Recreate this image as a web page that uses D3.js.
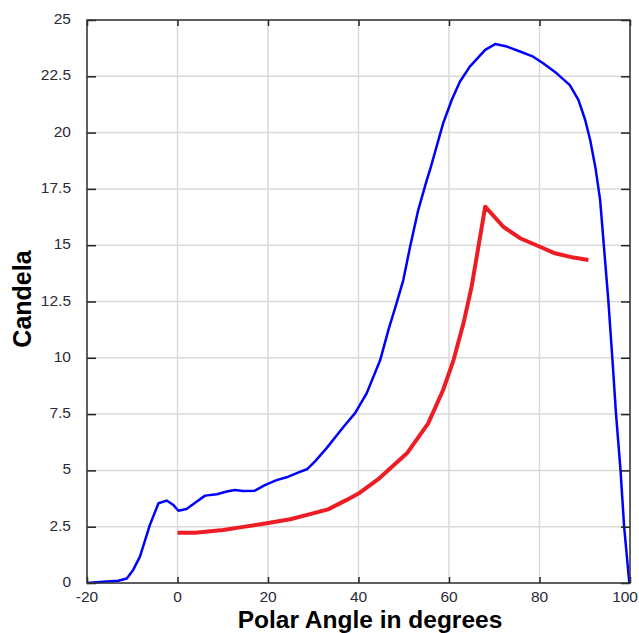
<!DOCTYPE html>
<html>
<head>
<meta charset="utf-8">
<script src="https://cdn.jsdelivr.net/npm/d3@7"></script>
<style>
  html, body { margin: 0; padding: 0; background: #fff; }
  svg { display: block; }
</style>
</head>
<body>
<svg id="chart" width="639" height="633"></svg>
<script>
// ---- data ----
const blueX = [-20, -16.4, -13.1, -11.2, -9.8, -8.3, -6.1, -4.2, -2.4, -0.9, 0.2, 2.0, 4.2, 6.1, 8.7, 10.9, 12.7, 14.5, 17.1, 19.3, 21.9, 24.5, 26.9, 28.6, 30.4, 33.0, 36.7, 39.2, 41.8, 44.8, 46.6, 48.4, 49.9, 51.4, 53.2, 55.1, 55.8, 58.7, 60.6, 62.4, 64.6, 68.0, 70.2, 72.8, 75.7, 78.6, 80.8, 83.8, 86.7, 88.6, 90.1, 91.2, 92.4, 93.4, 94.5, 95.2, 96.1, 96.9, 97.9, 98.7, 99.85];
const blueY = [0, 0.06, 0.1, 0.2, 0.58, 1.17, 2.58, 3.54, 3.66, 3.46, 3.21, 3.29, 3.61, 3.88, 3.94, 4.06, 4.13, 4.09, 4.1, 4.35, 4.57, 4.72, 4.92, 5.05, 5.4, 6.0, 6.94, 7.53, 8.42, 9.9, 11.23, 12.42, 13.45, 14.93, 16.56, 17.9, 18.34, 20.41, 21.45, 22.26, 22.93, 23.67, 23.93, 23.82, 23.6, 23.37, 23.08, 22.63, 22.11, 21.45, 20.56, 19.67, 18.4, 17.0, 14.3, 12.57, 9.98, 7.53, 5.02, 2.5, 0.0];
const redX = [0, 3.9, 10.1, 13.8, 19.7, 24.9, 29.3, 33.3, 37.4, 40.3, 44.6, 50.7, 55.4, 58.7, 61.0, 63.2, 65.0, 66.5, 68.0, 72.0, 75.7, 80.1, 83.4, 87.5, 90.8];
const redY = [2.23, 2.23, 2.35, 2.47, 2.65, 2.83, 3.06, 3.27, 3.69, 4.01, 4.65, 5.76, 7.09, 8.57, 9.9, 11.53, 13.16, 14.93, 16.71, 15.82, 15.31, 14.93, 14.64, 14.45, 14.34];
const xTicks = [-20, 0, 20, 40, 60, 80, 100];
const yTicks = [0, 2.5, 5, 7.5, 10, 12.5, 15, 17.5, 20, 22.5, 25];
const xTitle = "Polar Angle in degrees";
const yTitle = "Candela";

(function () {
// ---- layout ----
const W = 639;
const pL = 87, pR = 630, pT = 20, pB = 583;
const svg = d3.select("#chart");
const x = d3.scaleLinear().domain([-20, 100]).range([pL, pR]);
const y = d3.scaleLinear().domain([0, 25]).range([pB, pT]);

// gridlines
const grid = svg.append("g");
grid.selectAll("line.gx").data(xTicks).join("line")
  .attr("x1", d => x(d)).attr("x2", d => x(d))
  .attr("y1", pT).attr("y2", pB)
  .attr("stroke", "#d9d9d9").attr("stroke-width", 1.5);
grid.selectAll("line.gy").data(yTicks).join("line")
  .attr("y1", d => y(d)).attr("y2", d => y(d))
  .attr("x1", pL).attr("x2", pR)
  .attr("stroke", "#d9d9d9").attr("stroke-width", 1.5);

// lines
const line = d3.line().x(d => x(d[0])).y(d => y(d[1]));
const blue = blueX.map((v, i) => [v, blueY[i]]);
const red = redX.map((v, i) => [v, redY[i]]);
svg.append("path").datum(red).attr("d", line)
  .attr("fill", "none").attr("stroke", "#ee1c25").attr("stroke-width", 4)
  .attr("stroke-linejoin", "round").attr("stroke-linecap", "butt");
svg.append("path").datum(blue).attr("d", line)
  .attr("fill", "none").attr("stroke", "#0000ff").attr("stroke-width", 2.5)
  .attr("stroke-linejoin", "round");

// axes with inner ticks
const fontTick = "'Liberation Sans', Arial, sans-serif";
const axL = svg.append("g").attr("transform", `translate(${pL},0)`)
  .call(d3.axisRight(y).tickValues(yTicks).tickSize(9).tickFormat(""));
const axR = svg.append("g").attr("transform", `translate(${pR},0)`)
  .call(d3.axisLeft(y).tickValues(yTicks).tickSize(9).tickFormat(""));
const axB = svg.append("g").attr("transform", `translate(0,${pB})`)
  .call(d3.axisTop(x).tickValues(xTicks).tickSize(6).tickFormat(""));
const axT = svg.append("g").attr("transform", `translate(0,${pT})`)
  .call(d3.axisBottom(x).tickValues(xTicks).tickSize(6).tickFormat(""));
[axL, axR, axB, axT].forEach(g => {
  g.select(".domain").remove();
  g.selectAll(".tick line").attr("stroke", "#222").attr("stroke-width", 1.5);
});

// frame
svg.append("rect").attr("x", pL).attr("y", pT)
  .attr("width", pR - pL).attr("height", pB - pT)
  .attr("fill", "none").attr("stroke", "#333").attr("stroke-width", 1.5);

// tick labels
svg.append("g").selectAll("text").data(yTicks).join("text")
  .attr("x", 71).attr("y", d => y(d) + 4)
  .attr("text-anchor", "end")
  .attr("font-family", fontTick).attr("font-size", 15.5)
  .attr("fill", "#2a2a3a")
  .text(d => d);
const xl = svg.append("g").selectAll("text").data(xTicks).join("text")
  .attr("x", d => x(d)).attr("y", 602)
  .attr("text-anchor", "middle")
  .attr("font-family", fontTick).attr("font-size", 15.5)
  .attr("fill", "#2a2a3a")
  .text(d => d);
// keep the last label inside the picture
xl.each(function () {
  const b = this.getBBox();
  if (b.x + b.width > W - 1) {
    d3.select(this).attr("text-anchor", "end").attr("x", W - 1);
  }
});

// titles
svg.append("text").attr("x", 370).attr("y", 628)
  .attr("text-anchor", "middle")
  .attr("font-family", "'Liberation Sans', Arial, sans-serif")
  .attr("font-weight", "bold").attr("font-size", 24.5).attr("fill", "#000")
  .text(xTitle);
svg.append("text")
  .attr("transform", "translate(31,299) rotate(-90)")
  .attr("text-anchor", "middle")
  .attr("font-family", "'Liberation Sans', Arial, sans-serif")
  .attr("font-weight", "bold").attr("font-size", 25).attr("fill", "#000")
  .text(yTitle);
})();
</script>
</body>
</html>
